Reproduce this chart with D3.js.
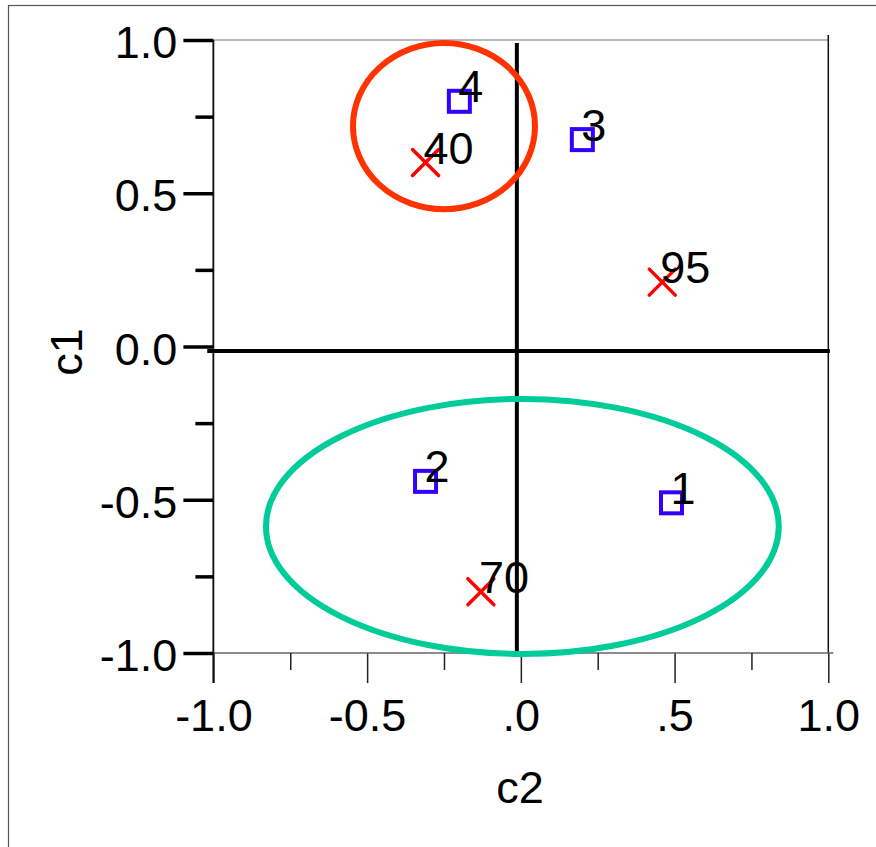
<!DOCTYPE html>
<html>
<head>
<meta charset="utf-8">
<script src="https://d3js.org/d3.v7.min.js"></script>
<style>
  html, body { margin: 0; padding: 0; background: #fff; }
  svg { display: block; }
  text { font-family: "Liberation Sans", Arial, sans-serif; fill: #000; }
</style>
</head>
<body>
<div id="chart"></div>
<script>
// ---- data ----
const squareNames = ['1', '2', '3', '4']
const squareX = [0.49, -0.31, 0.20, -0.20]
const squareY = [-0.51, -0.44, 0.675, 0.80]

const crossNames = ['40', '70', '95']
const crossX = [-0.31, -0.13, 0.46]
const crossY = [0.60, -0.80, 0.21]

// group ellipses: cx, cy, rx, ry in data units
const groupNames = ['top', 'bottom']
const groupCx = [-0.25, 0.005]
const groupCy = [0.719, -0.587]
const groupRx = [0.296, 0.834]
const groupRy = [0.271, 0.416]
const groupColors = ['#ff3300', '#00cc99']

// reference lines (slightly off zero in the original)
const refX = -0.013
const refY = -0.015

const xMajor = [-1, -0.5, 0, 0.5, 1]
const xMajorLabels = ['-1.0', '-0.5', '.0', '.5', '1.0']
const xMinor = [-0.75, -0.25, 0.25, 0.75]
const yMajor = [1, 0.5, 0, -0.5, -1]
const yMajorLabels = ['1.0', '0.5', '0.0', '-0.5', '-1.0']
const yMinor = [0.75, 0.25, -0.25, -0.75]

// ---- layout ----
const W = 876, H = 847
const FS = 45
const x = d3.scaleLinear().domain([-1, 1]).range([213.4, 828.3])
const y = d3.scaleLinear().domain([-1, 1]).range([653, 40])

const svg = d3.select('#chart').append('svg')
  .attr('width', W).attr('height', H)

// outer border
svg.append('rect')
  .attr('x', 8.5).attr('y', 5.5)
  .attr('width', 900).attr('height', 900)
  .attr('fill', 'none').attr('stroke', '#555').attr('stroke-width', 1.2)

// frame top + right
svg.append('line')
  .attr('x1', x(-1)).attr('x2', x(1)).attr('y1', y(1)).attr('y2', y(1))
  .attr('stroke', '#777').attr('stroke-width', 1.2)
svg.append('line')
  .attr('x1', x(1)).attr('x2', x(1)).attr('y1', y(1) - 5).attr('y2', y(-1))
  .attr('stroke', '#111').attr('stroke-width', 1.5)

// x axis
const gx = svg.append('g').attr('transform', `translate(0,${y(-1)})`)
gx.call(d3.axisBottom(x).tickValues(xMajor).tickSize(30).tickSizeOuter(0)
  .tickFormat((d, i) => xMajorLabels[i]))
gx.append('g').call(d3.axisBottom(x).tickValues(xMinor).tickSize(17)
  .tickSizeOuter(0).tickFormat(''))
gx.selectAll('.domain').attr('stroke', '#666').attr('stroke-width', 1.2)
  .attr('d', `M${x(-1)},0H${x(1) + 5}`)
gx.selectAll('.tick line').attr('stroke', '#222').attr('stroke-width', 1.5)
gx.selectAll('.tick text')
  .attr('font-size', FS).attr('font-family', null)
  .attr('y', 77.7).attr('dy', 0).attr('fill', '#000')

// y axis
const gy = svg.append('g').attr('transform', `translate(${x(-1)},0)`)
gy.call(d3.axisLeft(y).tickValues(yMajor).tickSize(30).tickSizeOuter(0)
  .tickPadding(6).tickFormat((d, i) => yMajorLabels[i]))
gy.append('g').call(d3.axisLeft(y).tickValues(yMinor).tickSize(18)
  .tickSizeOuter(0).tickFormat(''))
gy.selectAll('.domain').attr('stroke', '#111').attr('stroke-width', 1.5)
  .attr('d', `M0,${y(1)}V${y(-1) + 30}`)
gy.selectAll('.tick line').attr('stroke', '#000').attr('stroke-width', 3.5)
gy.selectAll('.tick text')
  .attr('font-size', FS).attr('font-family', null)
  .attr('dy', '0.39em').attr('fill', '#000')

// reference cross lines
svg.append('line')
  .attr('x1', x(refX)).attr('x2', x(refX))
  .attr('y1', y(0.99)).attr('y2', y(-1))
  .attr('stroke', '#000').attr('stroke-width', 4)
svg.append('line')
  .attr('x1', x(-1.02)).attr('x2', x(1.005))
  .attr('y1', y(refY)).attr('y2', y(refY))
  .attr('stroke', '#000').attr('stroke-width', 4)

// group ellipses
svg.selectAll('ellipse.group')
  .data(groupNames)
  .join('ellipse')
  .attr('class', 'group')
  .attr('cx', (d, i) => x(groupCx[i]))
  .attr('cy', (d, i) => y(groupCy[i]))
  .attr('rx', (d, i) => x(groupRx[i]) - x(0))
  .attr('ry', (d, i) => y(0) - y(groupRy[i]))
  .attr('fill', 'none')
  .attr('stroke', (d, i) => groupColors[i])
  .attr('stroke-width', 6)

// square markers
const sq = 21
svg.selectAll('rect.sq')
  .data(squareNames)
  .join('rect')
  .attr('class', 'sq')
  .attr('x', (d, i) => x(squareX[i]) - sq / 2)
  .attr('y', (d, i) => y(squareY[i]) - sq / 2)
  .attr('width', sq).attr('height', sq)
  .attr('fill', 'none').attr('stroke', '#3300ff').attr('stroke-width', 4)

// cross markers
const cr = 13
const crosses = svg.selectAll('g.cross')
  .data(crossNames)
  .join('g')
  .attr('class', 'cross')
  .attr('transform', (d, i) => `translate(${x(crossX[i])},${y(crossY[i])})`)
crosses.append('path')
  .attr('d', `M${-cr},${-cr}L${cr},${cr}M${-cr},${cr}L${cr},${-cr}`)
  .attr('stroke', '#ff0000').attr('stroke-width', 3.5)
  .attr('stroke-linecap', 'round').attr('fill', 'none')

// point labels
svg.selectAll('text.sqlab')
  .data(squareNames)
  .join('text')
  .attr('class', 'sqlab')
  .attr('x', (d, i) => x(squareX[i]) - 1)
  .attr('y', (d, i) => y(squareY[i]) + 1)
  .attr('font-size', FS)
  .text(d => d)
svg.selectAll('text.crlab')
  .data(crossNames)
  .join('text')
  .attr('class', 'crlab')
  .attr('x', (d, i) => x(crossX[i]) - 2)
  .attr('y', (d, i) => y(crossY[i]) + 1)
  .attr('font-size', FS)
  .text(d => d)

// axis titles
svg.append('text')
  .attr('transform', 'translate(82,352) rotate(-90)')
  .attr('text-anchor', 'middle')
  .attr('font-size', FS)
  .text('c1')
svg.append('text')
  .attr('x', 520).attr('y', 803)
  .attr('text-anchor', 'middle')
  .attr('font-size', FS)
  .text('c2')
</script>
</body>
</html>
